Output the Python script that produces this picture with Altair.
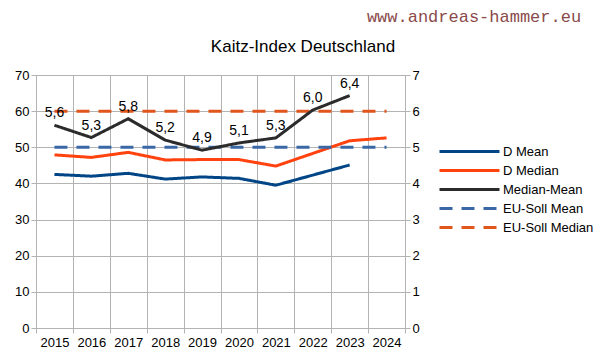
import altair as alt
import pandas as pd

years = [str(y) for y in range(2015, 2025)]
d_mean = [42.5, 42.0, 42.8, 41.2, 41.8, 41.4, 39.5, 42.3, 45.1, None]
d_median = [47.9, 47.2, 48.6, 46.5, 46.6, 46.6, 44.8, 48.3, 51.8, 52.6]
median_mean = [5.61, 5.27, 5.79, 5.20, 4.92, 5.12, 5.26, 6.03, 6.43, None]
eu_soll_mean = [50] * 10
eu_soll_median = [60] * 10

series = ["D Mean", "D Median", "Median-Mean", "EU-Soll Mean", "EU-Soll Median"]
colors = ["#004586", "#ff420e", "#2b2b2b", "#3a68a6", "#e0561c"]
dashes = [[1, 0], [1, 0], [1, 0], [13, 9], [13, 9]]
widths = [3, 3, 3, 4.5, 4.5]

title_text = "Kaitz-Index Deutschland"
watermark = "www.andreas-hammer.eu"

rows = []
for name, vals in [("D Mean", d_mean), ("D Median", d_median),
                   ("EU-Soll Mean", eu_soll_mean), ("EU-Soll Median", eu_soll_median)]:
    for y, v in zip(years, vals):
        if v is not None:
            rows.append({"year": y, "series": name, "value": v})
df_left = pd.DataFrame(rows)

rrows = []
for y, v in zip(years, median_mean):
    if v is not None:
        rrows.append({"year": y, "series": "Median-Mean", "value": v,
                      "label": f"{v:.1f}".replace(".", ",")})
df_right = pd.DataFrame(rrows)

FONT = "Liberation Sans"
GRID = "#b3b3b3"

x_enc = alt.X("year:O", sort=years,
              scale=alt.Scale(type="band", domain=years, paddingInner=0, paddingOuter=0),
              axis=alt.Axis(title=None, labelAngle=0, grid=True, tickBand="extent",
                            labelPadding=3))

legend = alt.Legend(title=None, orient="none", legendX=402, legendY=67,
                    symbolType="stroke", symbolSize=3600, symbolStrokeWidth=3,
                    labelFont=FONT, labelFontSize=13, labelColor="#000000",
                    labelOffset=2, clipHeight=19, rowPadding=0)

color_enc = alt.Color("series:N", scale=alt.Scale(domain=series, range=colors), legend=legend)
dash_enc = alt.StrokeDash("series:N", scale=alt.Scale(domain=series, range=dashes), legend=legend)
width_enc = alt.StrokeWidth("series:N", scale=alt.Scale(domain=series, range=widths), legend=legend)

left = alt.Chart(df_left).mark_line().encode(
    x=x_enc,
    y=alt.Y("value:Q", scale=alt.Scale(domain=[0, 70]),
            axis=alt.Axis(title=None, values=list(range(0, 80, 10)), grid=True, orient="left")),
    color=color_enc, strokeDash=dash_enc, strokeWidth=width_enc,
    detail="series:N",
)

y_right = alt.Y("value:Q", scale=alt.Scale(domain=[0, 7]),
                axis=alt.Axis(title=None, values=list(range(0, 8)), grid=False, orient="right"))

right_line = alt.Chart(df_right).mark_line().encode(
    x=x_enc, y=y_right, color=color_enc, strokeDash=dash_enc, strokeWidth=width_enc,
)
right_text = alt.Chart(df_right).mark_text(dy=-12, fontSize=14, font=FONT, color="#000000").encode(
    x=x_enc, y=y_right, text="label:N",
)
right = alt.layer(right_line, right_text)

texts = pd.DataFrame({"t": [watermark, title_text]})
wm = alt.Chart(texts).transform_filter(alt.datum.t == watermark).mark_text(
    font="Liberation Mono", fontSize=17, color="#8a4a4a", baseline="alphabetic", align="center"
).encode(text="t:N", x=alt.value(438), y=alt.value(-53))
tt = alt.Chart(texts).transform_filter(alt.datum.t == title_text).mark_text(
    font=FONT, fontSize=17, color="#000000", baseline="alphabetic", align="center"
).encode(text="t:N", x=alt.value(267), y=alt.value(-23))

chart = alt.layer(left, right, wm, tt).resolve_scale(y="independent").properties(
    width=369, height=253,
    autosize=alt.AutoSizeParams(type="none"),
    padding={"left": 28, "top": 67, "right": 193, "bottom": 24},
).configure_axis(
    domainColor=GRID, tickColor=GRID, gridColor=GRID, tickSize=5,
    labelFont=FONT, labelFontSize=13, labelColor="#000000",
).configure_view(stroke=None)

chart.save("out.html", embed_options={"renderer": "svg", "actions": False})
